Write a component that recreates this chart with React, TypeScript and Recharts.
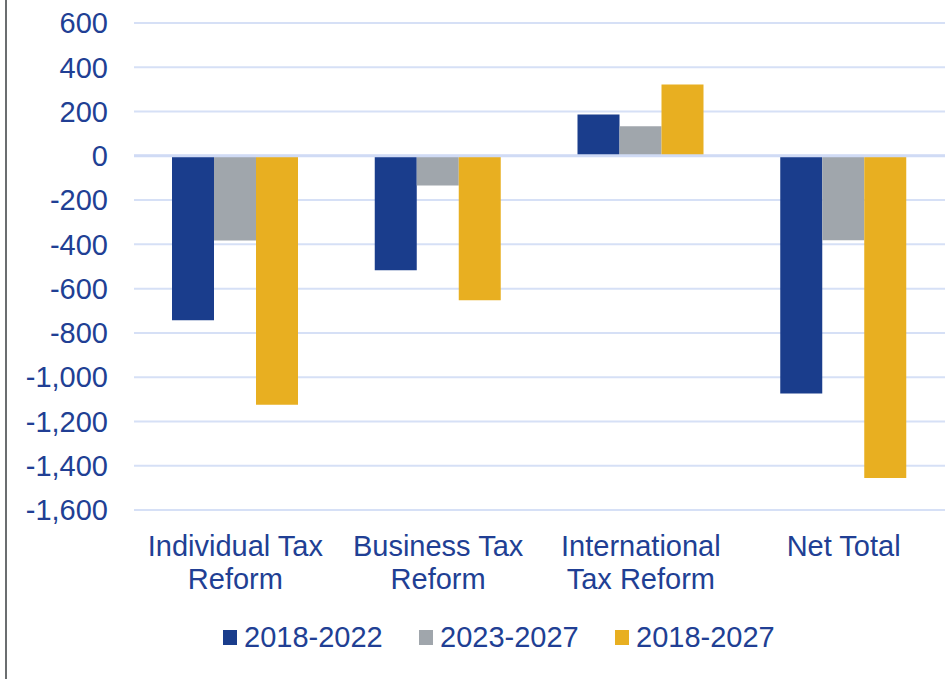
import React from "react";
import { BarChart, Bar, XAxis, YAxis, CartesianGrid, ReferenceLine, Legend } from "recharts";

const categories = ["Individual Tax Reform", "Business Tax Reform", "International Tax Reform", "Net Total"];
const categoryLines = [["Individual Tax", "Reform"], ["Business Tax", "Reform"], ["International", "Tax Reform"], ["Net Total"]];
const series2018_2022 = [-743, -517, 187, -1074];
const series2023_2027 = [-382, -134, 134, -381];
const series2018_2027 = [-1125, -652, 322, -1456];
const seriesNames = ["2018-2022", "2023-2027", "2018-2027"];
const seriesColors = ["#1A3D8C", "#A0A6AC", "#E8AF21"];
const yTicks = [600, 400, 200, 0, -200, -400, -600, -800, -1000, -1200, -1400, -1600];

const data = categories.map((c, i) => ({
  name: c,
  s1: series2018_2022[i],
  s2: series2023_2027[i],
  s3: series2018_2027[i],
}));

const TEXT = "#213F94";
const FONT = "'Liberation Sans', Arial, sans-serif";

const fmt = (v: number) => v.toLocaleString("en-US");

const XTick = (props: any) => {
  const { x, y, index } = props;
  const lines = categoryLines[index] || [];
  return (
    <text x={x} y={y} textAnchor="middle" fill={TEXT} fontSize={29} fontFamily={FONT}>
      {lines.map((l, i) => (
        <tspan key={i} x={x} dy={i === 0 ? 44 : 33}>{l}</tspan>
      ))}
    </text>
  );
};

const LegendContent = () => (
  <div style={{ position: "relative", height: 44, width: 947 }}>
    {seriesNames.map((n, i) => (
      <div key={n} style={{ position: "absolute", left: 223 + i * 196, top: 0, height: 44, display: "flex", alignItems: "center" }}>
        <div style={{ width: 14, height: 15, background: seriesColors[i], marginRight: 7 }} />
        <span style={{ color: TEXT, fontSize: 29, fontFamily: FONT, lineHeight: "44px" }}>{n}</span>
      </div>
    ))}
  </div>
);

export default function App() {
  return (
    <div style={{ position: "fixed", left: 0, top: 0, width: 947, height: 679, background: "#fff", overflow: "hidden" }}>
      <div style={{ position: "absolute", left: 0, top: 0, width: 947, height: 679 }}>
        <BarChart
          width={947}
          height={679}
          data={data}
          margin={{ top: 23, right: 2, bottom: 0, left: 0 }}
          barSize={42}
          barGap={0}
        >
          <CartesianGrid vertical={false} stroke="#D6E0F6" strokeWidth={2} />
          <XAxis
            dataKey="name"
            axisLine={false}
            tickLine={false}
            tickSize={0}
            height={125}
            interval={0}
            tick={<XTick />}
          />
          <YAxis
            type="number"
            domain={[-1600, 600]}
            ticks={yTicks}
            interval={0}
            axisLine={false}
            tickLine={false}
            tickSize={0}
            tickMargin={26}
            width={134}
            tickFormatter={fmt}
            tick={{ fill: TEXT, fontSize: 29, fontFamily: FONT }}
          />
          <ReferenceLine y={0} stroke="#D0DBF5" strokeWidth={3} />
          <Bar dataKey="s1" name={seriesNames[0]} fill={seriesColors[0]} isAnimationActive={false} />
          <Bar dataKey="s2" name={seriesNames[1]} fill={seriesColors[1]} isAnimationActive={false} />
          <Bar dataKey="s3" name={seriesNames[2]} fill={seriesColors[2]} isAnimationActive={false} />
          <Legend verticalAlign="bottom" content={<LegendContent />} wrapperStyle={{ top: 615, left: 0, width: 947 }} />
        </BarChart>
      </div>
      <div style={{ position: "absolute", left: 5, top: 0, width: 2, height: 679, background: "#6B6E70", zIndex: 5, borderLeft: "2px solid #6B6E70", boxSizing: "border-box" }} />
    </div>
  );
}
